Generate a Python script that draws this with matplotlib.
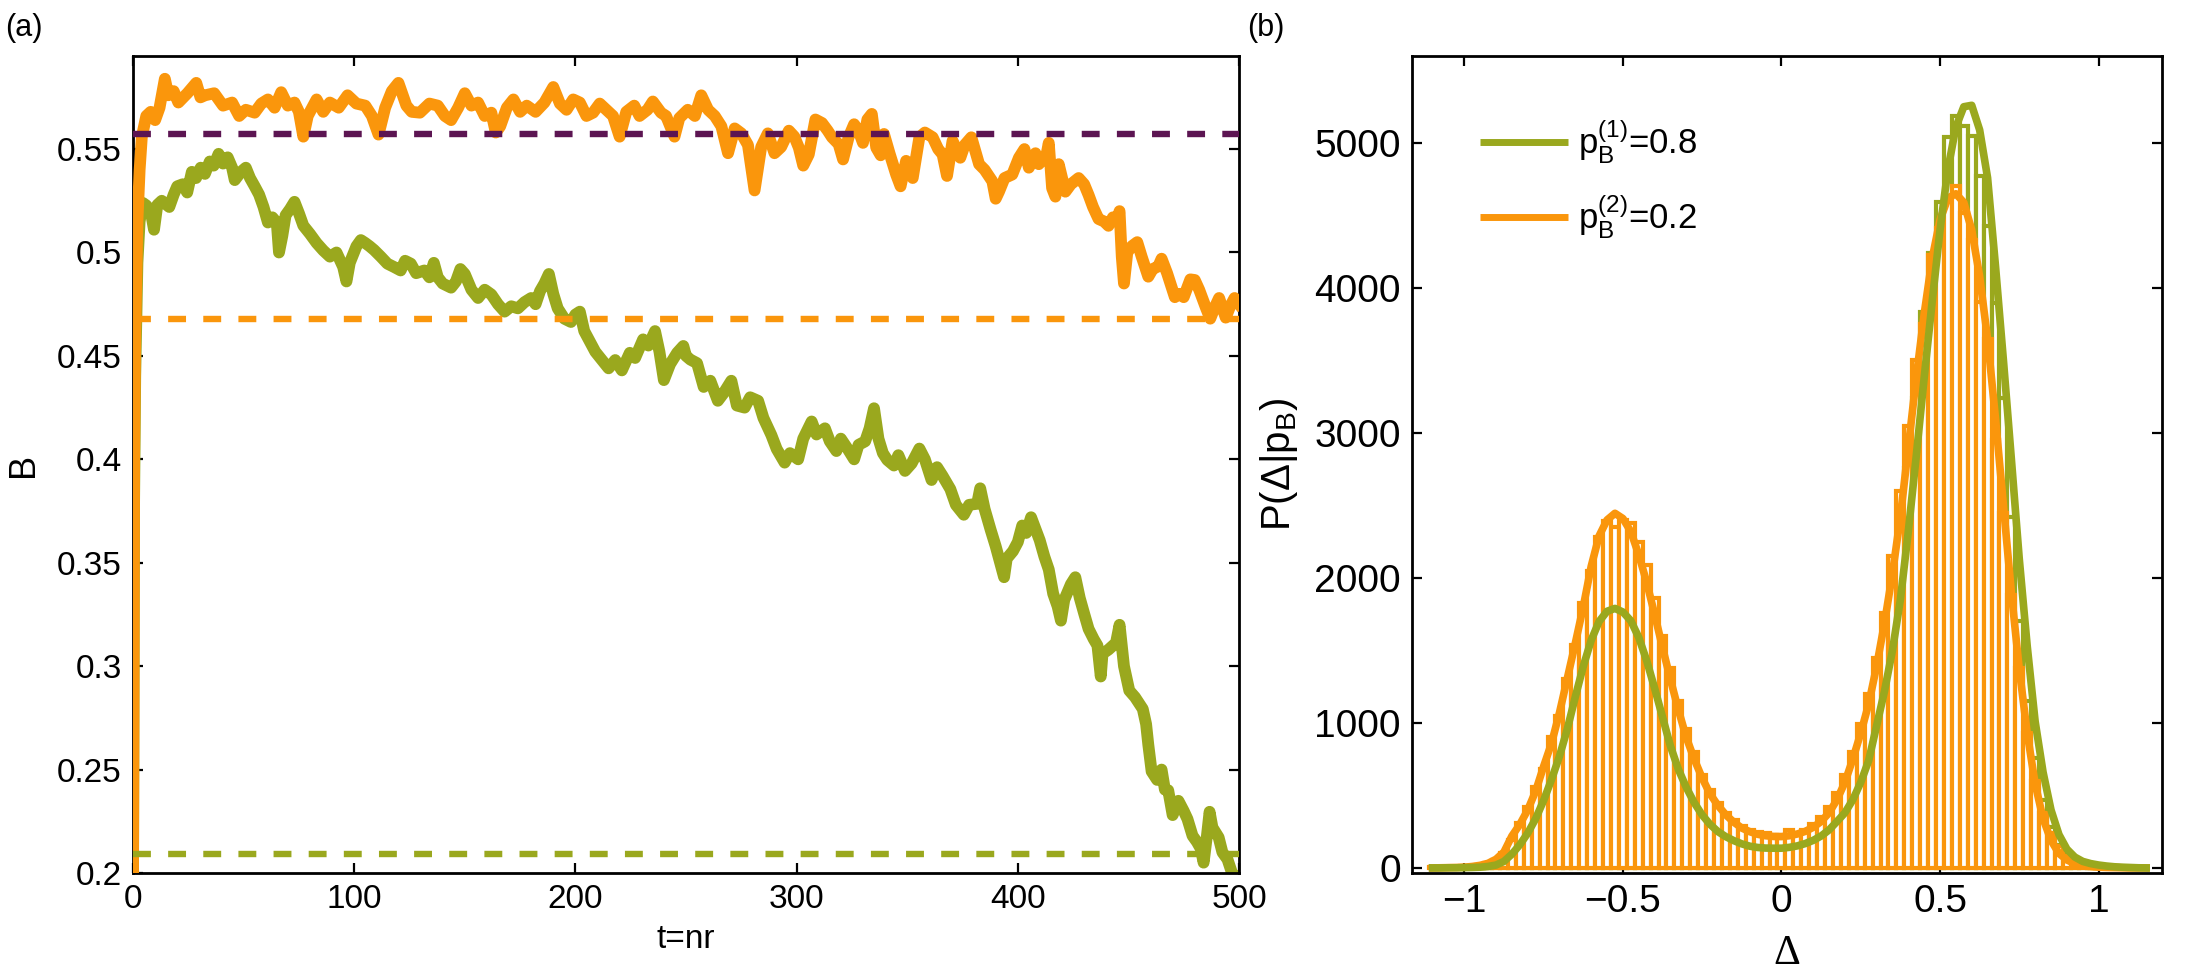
import matplotlib
matplotlib.use('Agg')
import matplotlib.pyplot as plt

plt.rcParams['font.family'] = ['Liberation Sans', 'DejaVu Sans']
plt.rcParams['mathtext.fontset'] = 'custom'
plt.rcParams['mathtext.rm'] = 'Liberation Sans'
plt.rcParams['mathtext.it'] = 'Liberation Sans'
plt.rcParams['mathtext.default'] = 'regular'

# ---------------- colours ----------------
GREEN = '#9aa81e'
ORANGE = '#fa960c'
PURPLE = '#5c1552'

# ---------------- panel (a): time series ----------------
t_orange = [0, 0.5, 1, 2, 3, 4, 6, 8, 10, 12, 14.4, 16, 18.4, 20.5, 24.6, 28.6, 30.5, 32.6, 36.7, 40.7,
            44.8, 48, 51, 55, 58, 61, 64, 67, 70, 73, 75, 77, 79, 83, 86, 89, 93, 97, 101, 105,
            108, 111, 114, 117, 120, 123.6, 126, 129.7, 134, 137.8, 141, 143.8, 147, 150, 153, 156, 159, 162, 164, 166,
            169, 172, 175, 178, 182, 186, 190, 193, 196, 199, 202, 205, 208, 211, 214, 217, 220, 223, 226.6, 229,
            232.6, 235, 238.7, 241, 244.8, 247, 250.8, 254, 256.9, 260, 263, 266, 269, 272, 275, 278, 281, 284, 287, 290,
            293, 296.5, 299, 301, 303, 305.5, 308.5, 311.5, 314, 316, 319, 321, 323.5, 326, 328, 330, 332, 334, 336, 338,
            339.5, 342, 345, 347, 349.5, 352.5, 355.5, 358, 361.5, 364, 366, 368, 370.5, 374, 376, 379, 382.5, 385, 388.5, 390,
            391.5, 394, 397.5, 400.5, 403, 405, 408, 409.5, 413, 414, 415.5, 417, 418.5, 421.5, 424, 427.5, 430, 432, 434, 436.5,
            439, 441, 443, 445, 446, 447, 448, 449.5, 451.5, 454, 456, 459, 461, 463.5, 465, 467.5, 469, 471, 473, 475,
            478, 480, 482, 485, 487, 489, 491, 494, 496, 498, 500]
B_orange = [0.19, 0.40, 0.46, 0.515, 0.54, 0.556, 0.566, 0.568, 0.564, 0.570, 0.584, 0.576, 0.578, 0.5725, 0.577, 0.582, 0.575, 0.576, 0.577, 0.571,
            0.5725, 0.566, 0.569, 0.5676, 0.572, 0.574, 0.570, 0.5775, 0.571, 0.5725, 0.568, 0.556, 0.566, 0.574, 0.568, 0.5725, 0.570, 0.576, 0.572, 0.571,
            0.566, 0.557, 0.570, 0.578, 0.582, 0.571, 0.568, 0.5676, 0.572, 0.571, 0.566, 0.564, 0.570, 0.577, 0.571, 0.5725, 0.566, 0.5676, 0.558, 0.561,
            0.570, 0.574, 0.568, 0.571, 0.568, 0.5725, 0.580, 0.572, 0.569, 0.574, 0.5725, 0.566, 0.5676, 0.572, 0.569, 0.566, 0.556, 0.568, 0.571, 0.566,
            0.569, 0.573, 0.5676, 0.566, 0.556, 0.565, 0.569, 0.566, 0.576, 0.569, 0.566, 0.561, 0.548, 0.560, 0.5576, 0.552, 0.530, 0.551, 0.5576, 0.548,
            0.551, 0.5589, 0.556, 0.5507, 0.542, 0.5474, 0.5643, 0.5626, 0.559, 0.5557, 0.5524, 0.545, 0.5557, 0.562, 0.5589, 0.553, 0.5643, 0.567, 0.5507, 0.547,
            0.5573, 0.548, 0.5377, 0.532, 0.5443, 0.536, 0.5557, 0.558, 0.5557, 0.550, 0.5474, 0.537, 0.554, 0.5458, 0.552, 0.5557, 0.5427, 0.540, 0.5344, 0.526,
            0.5294, 0.536, 0.5377, 0.5458, 0.550, 0.541, 0.548, 0.5427, 0.5474, 0.553, 0.5311, 0.527, 0.5427, 0.5294, 0.533, 0.536, 0.533, 0.5278, 0.522, 0.5162,
            0.515, 0.5129, 0.517, 0.5162, 0.520, 0.498, 0.485, 0.500, 0.503, 0.505, 0.498, 0.4883, 0.492, 0.4933, 0.497, 0.490, 0.485, 0.4784, 0.480, 0.4784,
            0.487, 0.4867, 0.482, 0.4734, 0.468, 0.4734, 0.478, 0.4685, 0.474, 0.478, 0.4751]

t_green = [0, 0.5, 1, 2, 3, 4.4, 6, 8, 9.5, 11, 13, 16.4, 18.4, 20, 22.5, 24.5, 26.6, 28.5, 30.6, 32.5,
           34.7, 36.5, 38.7, 40.7, 42.8, 44.8, 46, 48.8, 51, 52.9, 55, 57, 59, 61, 63, 65, 66, 67.5, 69, 71,
           73, 75, 77, 80, 83, 86, 89, 92, 95, 96.5, 98, 101, 103, 105, 107, 109, 112, 115, 118, 121,
           123, 125.6, 128, 131.7, 134, 136, 137.8, 140, 143.8, 146, 148, 150, 153, 156, 159, 162, 165, 168, 171, 174,
           177, 180, 182, 184, 186, 188, 190, 192, 195, 198, 200, 202, 204, 206, 209, 212, 215, 218, 221, 224.6,
           227, 230.6, 233, 236, 238, 240, 242.8, 246, 248.8, 250, 252, 255, 258, 261, 264.4, 267, 270.5, 273, 276.5, 279,
           282.6, 285, 288.6, 291, 294.6, 297, 300.7, 303, 306.8, 309, 312.8, 315, 318, 320, 323, 326, 328, 331, 333, 335,
           337, 339, 341, 344, 346, 349, 352, 355.5, 358, 361, 363.5, 366, 369.5, 372, 375.6, 378, 381.6, 383, 385, 387.7,
           390, 392, 393.8, 395, 397.8, 400, 402, 403.8, 406, 409.9, 412, 414, 416, 418, 419.5, 421, 424, 426, 428, 430,
           432, 434.3, 436, 437.5, 438.3, 441, 444.4, 446, 448, 450.4, 453, 456.5, 458, 459, 460.5, 463, 465, 466.5, 468, 470,
           472.6, 475, 476.7, 479, 481, 482.7, 484, 485.5, 486.7, 488, 490.8, 492.5, 494.8, 497, 500]
B_green = [0.19, 0.38, 0.44, 0.495, 0.515, 0.524, 0.5228, 0.520, 0.511, 0.523, 0.525, 0.522, 0.528, 0.532, 0.533, 0.529, 0.539, 0.536, 0.541, 0.538,
           0.544, 0.542, 0.5477, 0.543, 0.546, 0.541, 0.535, 0.539, 0.541, 0.536, 0.532, 0.528, 0.522, 0.5145, 0.517, 0.5145, 0.500, 0.508, 0.518, 0.521,
           0.5245, 0.519, 0.513, 0.509, 0.5046, 0.501, 0.498, 0.500, 0.493, 0.486, 0.495, 0.503, 0.506, 0.5046, 0.503, 0.5012, 0.498, 0.4946, 0.493, 0.4913,
           0.496, 0.4946, 0.490, 0.4913, 0.488, 0.495, 0.488, 0.485, 0.483, 0.486, 0.492, 0.4896, 0.482, 0.478, 0.482, 0.4797, 0.475, 0.4714, 0.474, 0.473,
           0.476, 0.478, 0.475, 0.4813, 0.485, 0.4896, 0.480, 0.473, 0.468, 0.4664, 0.470, 0.4714, 0.462, 0.458, 0.452, 0.448, 0.444, 0.448, 0.443, 0.4515,
           0.449, 0.458, 0.455, 0.462, 0.452, 0.4383, 0.446, 0.4515, 0.4548, 0.450, 0.4482, 0.4465, 0.435, 0.438, 0.4283, 0.432, 0.438, 0.426, 0.425, 0.430,
           0.4283, 0.420, 0.4117, 0.405, 0.3984, 0.403, 0.400, 0.410, 0.4183, 0.412, 0.415, 0.4087, 0.404, 0.410, 0.4052, 0.400, 0.407, 0.4087, 0.415, 0.4247,
           0.410, 0.403, 0.3997, 0.397, 0.402, 0.3944, 0.398, 0.4052, 0.400, 0.390, 0.3962, 0.392, 0.3856, 0.378, 0.3732, 0.378, 0.3785, 0.386, 0.376, 0.366,
           0.358, 0.350, 0.343, 0.352, 0.3556, 0.360, 0.368, 0.3644, 0.372, 0.3609, 0.353, 0.3467, 0.335, 0.3289, 0.322, 0.332, 0.3396, 0.343, 0.333, 0.3254,
           0.318, 0.3131, 0.310, 0.295, 0.306, 0.308, 0.3113, 0.320, 0.300, 0.2882, 0.285, 0.2793, 0.272, 0.262, 0.2491, 0.245, 0.250, 0.2403, 0.240, 0.228,
           0.2349, 0.230, 0.2261, 0.218, 0.215, 0.2118, 0.205, 0.218, 0.2296, 0.222, 0.2172, 0.210, 0.2066, 0.1995, 0.198]

ref_levels = [0.5575, 0.468, 0.209]
ref_colors = [PURPLE, ORANGE, GREEN]

a_xticks = [0, 100, 200, 300, 400, 500]
a_xticklabels = ['0', '100', '200', '300', '400', '500']
a_yticks = [0.2, 0.25, 0.3, 0.35, 0.4, 0.45, 0.5, 0.55]
a_yticklabels = ['0.2', '0.25', '0.3', '0.35', '0.4', '0.45', '0.5', '0.55']

# ---------------- panel (b): histograms + fits ----------------
delta = [-1.100, -1.075, -1.050, -1.025, -1.000, -0.975, -0.950, -0.925, -0.900, -0.875,
         -0.850, -0.825, -0.800, -0.775, -0.750, -0.725, -0.700, -0.675, -0.650, -0.625,
         -0.600, -0.575, -0.550, -0.525, -0.500, -0.475, -0.450, -0.425, -0.400, -0.375,
         -0.350, -0.325, -0.300, -0.275, -0.250, -0.225, -0.200, -0.175, -0.150, -0.125,
         -0.100, -0.075, -0.050, -0.025, 0.000, 0.025, 0.050, 0.075, 0.100, 0.125,
         0.150, 0.175, 0.200, 0.225, 0.250, 0.275, 0.300, 0.325, 0.350, 0.375,
         0.400, 0.425, 0.450, 0.475, 0.500, 0.525, 0.550, 0.575, 0.600, 0.625,
         0.650, 0.675, 0.700, 0.725, 0.750, 0.775, 0.800, 0.825, 0.850, 0.875,
         0.900, 0.925, 0.950, 0.975, 1.000, 1.025, 1.050, 1.075, 1.100, 1.125, 1.150]

hist_orange = [5, 6, 4, 8, 12, 15, 22, 35, 58, 105,
               190, 310, 420, 560, 680, 900, 1050, 1300, 1540, 1830,
               2050, 2280, 2390, 2350, 2400, 2380, 2250, 2090, 1860, 1600,
               1380, 1150, 960, 800, 640, 540, 450, 380, 330, 290,
               262, 245, 240, 228, 225, 262, 240, 262, 300, 350,
               420, 520, 640, 800, 990, 1200, 1450, 1760, 2150, 2600,
               3050, 3500, 3750, 4230, 4414, 4620, 4700, 4520, 4330, 3900,
               3650, 2950, 2450, 1880, 1380, 930, 600, 380, 240, 150,
               85, 50, 30, 18, 12, 8, 5, 3, 2, 0, 0]

hist_green = [0, 0, 1, 1, 3, 4, 8, 14, 28, 55,
              100, 170, 250, 350, 480, 620, 790, 980, 1200, 1400,
              1580, 1710, 1780, 1790, 1770, 1700, 1580, 1430, 1250, 1050,
              860, 700, 570, 460, 375, 305, 255, 220, 190, 170,
              155, 145, 140, 138, 138, 144, 155, 172, 195, 228,
              275, 335, 420, 520, 650, 820, 1030, 1290, 1620, 2000,
              2756, 3240, 3834, 4243, 4590, 5040, 5184, 5120, 5046, 4775,
              4427, 3895, 3240, 2422, 1700, 1150, 760, 470, 280, 160,
              95, 60, 40, 28, 20, 14, 10, 7, 5, 3, 2]

fit_orange = [0, 1, 2, 3, 5, 10, 18, 32, 60, 110,
              220, 300, 400, 530, 700, 860, 1070, 1310, 1550, 1800,
              2080, 2290, 2400, 2446, 2410, 2320, 2160, 1970, 1750, 1520,
              1300, 1090, 900, 750, 620, 510, 430, 365, 315, 275,
              250, 232, 222, 217, 216, 222, 234, 252, 280, 320,
              380, 470, 590, 750, 930, 1130, 1390, 1690, 2030, 2420,
              2900, 3380, 3820, 4200, 4470, 4620, 4650, 4590, 4400, 4080,
              3650, 3100, 2500, 1900, 1370, 930, 580, 340, 190, 100,
              55, 30, 16, 9, 5, 3, 2, 1, 0, 0, 0]

fit_green = [0, 0, 1, 1, 2, 3, 5, 10, 20, 45,
             95, 160, 240, 340, 465, 610, 770, 960, 1180, 1390,
             1570, 1700, 1770, 1790, 1765, 1705, 1590, 1430, 1240, 1040,
             840, 680, 555, 450, 365, 300, 250, 215, 188, 166,
             150, 141, 137, 136, 136, 142, 152, 168, 190, 220,
             262, 320, 380, 470, 590, 740, 980, 1220, 1500, 1850,
             2320, 2840, 3380, 3900, 4400, 4820, 5110, 5250, 5260, 5090,
             4760, 4150, 3500, 2820, 2130, 1530, 1010, 660, 400, 230,
             130, 75, 45, 30, 20, 13, 8, 5, 3, 1, 0]

b_xticks = [-1, -0.5, 0, 0.5, 1]
b_xticklabels = ['\u22121', '\u22120.5', '0', '0.5', '1']
b_yticks = [0, 1000, 2000, 3000, 4000, 5000]
b_yticklabels = ['0', '1000', '2000', '3000', '4000', '5000']
legend_labels = [r'$p_B^{(1)}$=0.8', r'$p_B^{(2)}$=0.2']

# ---------------- figure ----------------
W, H = 2191, 972
fig = plt.figure(figsize=(W / 100, H / 100), dpi=100)
axA = fig.add_axes([133 / W, 1 - 873 / H, 1106 / W, 817 / H])
axB = fig.add_axes([1412 / W, 1 - 873 / H, 750 / W, 817 / H])

# panel (a)
axA.plot(t_green, B_green, color=GREEN, lw=8.5, solid_joinstyle='round', zorder=2)
axA.plot(t_orange, B_orange, color=ORANGE, lw=8.5, solid_joinstyle='round', zorder=3)
for lev, col in zip(ref_levels, ref_colors):
    axA.axhline(lev, color=col, lw=4.6, dashes=(2.8, 2.7), zorder=4)
axA.set_xlim(0, 500)
axA.set_ylim(0.2, 0.595)
axA.set_xticks(a_xticks)
axA.set_xticklabels(a_xticklabels)
axA.set_yticks(a_yticks)
axA.set_yticklabels(a_yticklabels)
axA.tick_params(direction='in', length=7, width=1.6, top=True, right=True,
                labelsize=24, pad=8)
axA.set_xlabel('t=nr', fontsize=24)
axA.xaxis.set_label_coords(0.5, -0.062)
axA.set_ylabel('B', fontsize=26)
axA.yaxis.set_label_coords(-0.083, 0.5)

# panel (b)
axB.bar(delta, hist_green, width=0.025, color='white', edgecolor=GREEN,
        linewidth=3.0, zorder=1)
axB.bar(delta, hist_orange, width=0.025, color='white', edgecolor=ORANGE,
        linewidth=3.0, zorder=2)
lg, = axB.plot(delta, fit_green, color=GREEN, lw=5.5, zorder=4)
lo, = axB.plot(delta, fit_orange, color=ORANGE, lw=5.5, zorder=3)
axB.set_xlim(-1.165, 1.2)
axB.set_ylim(-35, 5600)
axB.set_xticks(b_xticks)
axB.set_xticklabels(b_xticklabels)
axB.set_yticks(b_yticks)
axB.set_yticklabels(b_yticklabels)
axB.tick_params(direction='in', length=7, width=1.6, top=True, right=True,
                labelsize=28, pad=8)
axB.set_xlabel('\u0394', fontsize=30, family=['Liberation Serif', 'DejaVu Serif'])
axB.xaxis.set_label_coords(0.5, -0.075)
axB.set_ylabel('P(\u0394|p$_B$)', fontsize=29)
axB.yaxis.set_label_coords(-0.15, 0.5)

# legend (manual placement)
for yy, col, lab in zip([0.8947, 0.803], [GREEN, ORANGE], legend_labels):
    axB.plot([0.0907, 0.208], [yy, yy], transform=axB.transAxes, color=col, lw=5,
             solid_capstyle='butt', zorder=6)
    axB.text(0.2213, yy, lab, transform=axB.transAxes, fontsize=25, va='center',
             ha='left', zorder=6)

for ax in (axA, axB):
    for s in ax.spines.values():
        s.set_linewidth(2.0)

fig.text(5 / W, 1 - 28 / H, '(a)', fontsize=22, va='center', ha='left')
fig.text(1247 / W, 1 - 28 / H, '(b)', fontsize=22, va='center', ha='left')

fig.savefig('out.png', dpi=100, facecolor='white')
